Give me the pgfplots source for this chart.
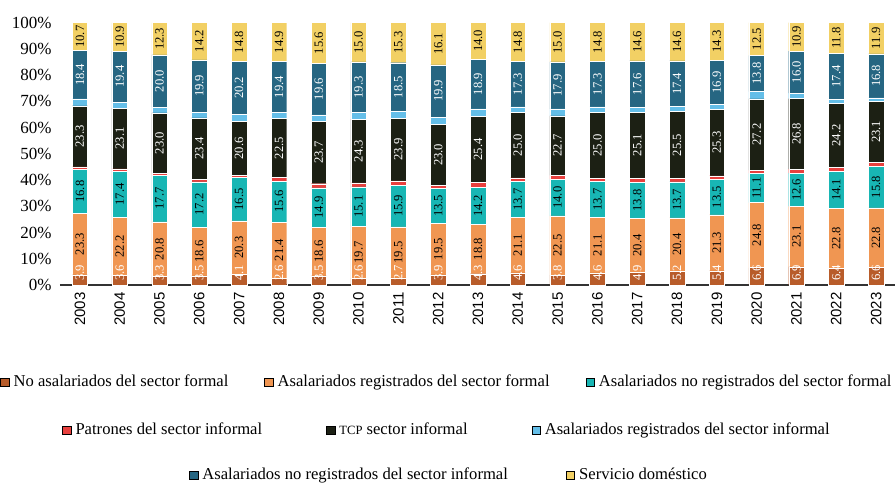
\documentclass[border=0pt]{standalone}
\usepackage{fontspec}
\setmainfont{Liberation Serif}
\newfontfamily\yearfam{Liberation Sans}
\usepackage{pgfplots}
\usepackage{pgfplotstable}
\pgfplotsset{compat=1.18}

\definecolor{cNF}{RGB}{184,92,42}
\definecolor{cARF}{RGB}{240,150,82}
\definecolor{cANRF}{RGB}{24,182,180}
\definecolor{cPat}{RGB}{232,64,62}
\definecolor{cTCP}{RGB}{28,32,20}
\definecolor{cARI}{RGB}{100,190,232}
\definecolor{cANRI}{RGB}{38,102,130}
\definecolor{cSD}{RGB}{242,208,100}

\newcommand\tickfont{\fontsize{8.5}{10}\selectfont}
\newcommand\barfont{\fontsize{6.3}{7}\selectfont}
\newcommand\legfont{\fontsize{8.3}{10}\selectfont}
\newcommand\yearfont{\yearfam\fontsize{7.5}{9}\selectfont}

% share of each group, % of total (idx, year, 8 groups bottom to top)
\pgfplotstableread{
idx year nf  arf  anrf pat tcp  ari anri sd
0  2003 3.9 23.3 16.8 1.0 23.3 2.6 18.4 10.7
1  2004 3.6 22.2 17.4 1.1 23.1 2.3 19.4 10.9
2  2005 3.3 20.8 17.7 0.8 23.0 2.1 20.0 12.3
3  2006 3.5 18.6 17.2 1.0 23.4 2.2 19.9 14.2
4  2007 4.1 20.3 16.5 0.9 20.6 2.6 20.2 14.8
5  2008 2.6 21.4 15.6 1.3 22.5 2.3 19.4 14.9
6  2009 3.5 18.6 14.9 1.6 23.7 2.5 19.6 15.6
7  2010 2.6 19.7 15.1 1.5 24.3 2.5 19.3 15.0
8  2011 2.7 19.5 15.9 1.6 23.9 2.6 18.5 15.3
9  2012 3.9 19.5 13.5 1.2 23.0 2.9 19.9 16.1
10 2013 4.3 18.8 14.2 1.7 25.4 2.7 18.9 14.0
11 2014 4.6 21.1 13.7 1.4 25.0 2.1 17.3 14.8
12 2015 3.8 22.5 14.0 1.5 22.7 2.6 17.9 15.0
13 2016 4.6 21.1 13.7 1.3 25.0 2.2 17.3 14.8
14 2017 4.9 20.4 13.8 1.6 25.1 2.0 17.6 14.6
15 2018 5.2 20.4 13.7 1.3 25.5 1.9 17.4 14.6
16 2019 5.4 21.3 13.5 1.4 25.3 1.9 16.9 14.3
17 2020 6.6 24.8 11.1 1.2 27.2 2.8 13.8 12.5
18 2021 6.9 23.1 12.6 1.6 26.8 2.1 16.0 10.9
19 2022 6.4 22.8 14.1 1.6 24.2 1.7 17.4 11.8
20 2023 6.6 22.8 15.8 1.6 23.1 1.4 16.8 11.9
}\data

% label positions: middle of each segment
\pgfplotstablecreatecol[create col/expr={\thisrow{nf}+0.5*\thisrow{arf}}]{marf}\data
\pgfplotstablecreatecol[create col/expr={\thisrow{nf}+\thisrow{arf}+0.5*\thisrow{anrf}}]{manrf}\data
\pgfplotstablecreatecol[create col/expr={\thisrow{nf}+\thisrow{arf}+\thisrow{anrf}+\thisrow{pat}+0.5*\thisrow{tcp}}]{mtcp}\data
\pgfplotstablecreatecol[create col/expr={100-\thisrow{sd}-0.5*\thisrow{anri}}]{manri}\data
\pgfplotstablecreatecol[create col/expr={100-0.5*\thisrow{sd}}]{msd}\data
\pgfplotstablecreatecol[create col/expr={0}]{zero}\data

\pgfplotsset{
  /pgf/number format/assume math mode=true,
  seg/.style={fill=#1, draw=white, line width=0.2pt},
  seglabel/.style={
    only marks, mark=*, mark size=0pt, mark options={draw=none, fill=none},
    point meta=explicit,
    nodes near coords={\pgfmathprintnumber[fixed,fixed zerofill,precision=1]{\pgfplotspointmeta}},
    every node near coord/.style={font=\barfont, text=#1, inner sep=0.5pt,
      rotate=90, anchor=center},
  },
  baselabel/.style={
    only marks, mark=*, mark size=0pt, mark options={draw=none, fill=none},
    point meta=explicit,
    nodes near coords={\pgfmathprintnumber[fixed,fixed zerofill,precision=1]{\pgfplotspointmeta}},
    every node near coord/.style={font=\barfont, text=#1, inner sep=0.5pt,
      yshift=1.5pt, rotate=90, anchor=west},
  },
  legendrow/.style={
    anchor=center, hide axis, scale only axis, width=1pt, height=1pt,
    xmin=0, xmax=1, ymin=0, ymax=1,
    legend columns=-1,
    legend image code/.code={\fill[##1] (0pt,-2.3pt) rectangle (4.2pt,1.9pt);},
    legend style={at={(0.5,0.5)}, anchor=center, draw=none, fill=none,
      font=\legfont, inner sep=0pt,
      /tikz/every even column/.append style={column sep=#1}},
  },
  frame/.style={
    at={(0,0)}, anchor=south west,
    scale only axis, width=418pt, height=131.2pt,
    xmin=-0.5, xmax=20.5, ymin=0, ymax=100, clip=false,
  },
}

\begin{document}
\begin{tikzpicture}
\begin{axis}[
  frame,
  ybar stacked, bar width=7.75pt,
  xtick={0,...,20}, xticklabels from table={\data}{year},
  ytick={0,10,...,100},
  yticklabel={\pgfmathprintnumber{\tick}\%},
  x tick label style={font=\yearfont, inner sep=0pt, yshift=-3.5pt, rotate=90, anchor=east},
  y tick label style={font=\tickfont, inner sep=0pt, xshift=-4pt},
  axis x line*=bottom, axis y line*=left,
  y axis line style={draw=none},
  x axis line style={line width=0.7pt, black!80},
  major tick length=0pt,
]
\addplot[seg=cNF]   table[x=idx, y=nf]   {\data};
\addplot[seg=cARF]  table[x=idx, y=arf]  {\data};
\addplot[seg=cANRF] table[x=idx, y=anrf] {\data};
\addplot[seg=cPat]  table[x=idx, y=pat]  {\data};
\addplot[seg=cTCP]  table[x=idx, y=tcp]  {\data};
\addplot[seg=cARI]  table[x=idx, y=ari]  {\data};
\addplot[seg=cANRI] table[x=idx, y=anri] {\data};
\addplot[seg=cSD]   table[x=idx, y=sd]   {\data};
\end{axis}

% value labels, on top of the bars
\begin{axis}[frame, hide axis]
\addplot[baselabel=white] table[x=idx, y=zero,  meta=nf]   {\data};
\addplot[seglabel=black]  table[x=idx, y=marf,  meta=arf]  {\data};
\addplot[seglabel=black]  table[x=idx, y=manrf, meta=anrf] {\data};
\addplot[seglabel=white]  table[x=idx, y=mtcp,  meta=tcp]  {\data};
\addplot[seglabel=white]  table[x=idx, y=manri, meta=anri] {\data};
\addplot[seglabel=black]  table[x=idx, y=msd,   meta=sd]   {\data};
\end{axis}

\begin{axis}[legendrow=16pt, at={(194pt,-48.5pt)}]
\addlegendimage{fill=cNF}   \addlegendentry{No asalariados del sector formal}
\addlegendimage{fill=cARF}  \addlegendentry{Asalariados registrados del sector formal}
\addlegendimage{fill=cANRF} \addlegendentry{Asalariados no registrados del sector formal}
\end{axis}

\begin{axis}[legendrow=30pt, at={(194pt,-72.5pt)}]
\addlegendimage{fill=cPat}  \addlegendentry{Patrones del sector informal}
\addlegendimage{fill=cTCP}  \addlegendentry{{\fontsize{6.3}{8}\selectfont TCP} sector informal}
\addlegendimage{fill=cARI}  \addlegendentry{Asalariados registrados del sector informal}
\end{axis}

\begin{axis}[legendrow=27pt, at={(195pt,-95pt)}]
\addlegendimage{fill=cANRI} \addlegendentry{Asalariados no registrados del sector informal}
\addlegendimage{fill=cSD}   \addlegendentry{Servicio doméstico}
\end{axis}

\pgfresetboundingbox
\path (-30pt,-99pt) rectangle (417.5pt,142.5pt);
\end{tikzpicture}
\end{document}
